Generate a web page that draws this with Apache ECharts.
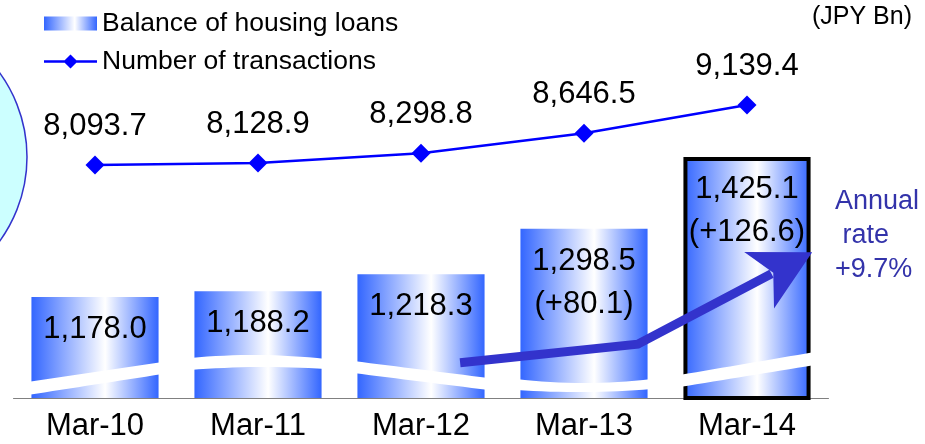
<!DOCTYPE html>
<html>
<head>
<meta charset="utf-8">
<script src="https://cdn.jsdelivr.net/npm/echarts@6/dist/echarts.min.js"></script>
<style>
html,body{margin:0;padding:0;background:#fff;}
#chart{width:925px;height:444px;}
</style>
</head>
<body>
<div id="chart"></div>
<script>
// ---- data ----
const categories = ['Mar-10', 'Mar-11', 'Mar-12', 'Mar-13', 'Mar-14'];
const loanBalance = [1178.0, 1188.2, 1218.3, 1298.5, 1425.1];
const loanIncrease = [null, null, null, 80.1, 126.6];
const transactions = [8093.7, 8128.9, 8298.8, 8646.5, 9139.4];
const seriesNames = ['Balance of housing loans', 'Number of transactions'];
const unitText = '(JPY Bn)';
const annualRateText = 'Annual\n rate\n+9.7%';
// arrow annotation anchor points: [category position, balance value]
const arrowPoints = [[2.24, 1062], [3.33, 1095], [4.4, 1257]];

// ---- style constants ----
const FONT = '"Liberation Sans", Arial, sans-serif';
// axis-break bands: px above baseline [topL, topM, topR, botL, botM, botR]
const BREAK_SHAPES = [
  [16, 26, 36, 3, 13.5, 24],
  [40, 43, 39, 28, 31, 29],
  [37, 28.5, 20, 25, 16.5, 8],
  [19, 15, 19, 8, 6, 9],
  [23, 34.5, 46, 11, 22, 33]
];
const LINE_LEGEND_ICON = 'path://M0,5.8L20.7,5.8L26.5,0L32.3,5.8L53,5.8L53,8.2L32.3,8.2L26.5,14L20.7,8.2L0,8.2Z';

function fmt(v) {
  return v.toFixed(1).replace(/\B(?=(\d{3})+(?!\d))/g, ',');
}

const barGradient = new echarts.graphic.LinearGradient(0, 0, 1, 0, [
  { offset: 0, color: '#3366FF' },
  { offset: 0.58, color: '#FFFFFF' },
  { offset: 1, color: '#3366FF' }
]);

const chart = echarts.init(document.getElementById('chart'), null, { renderer: 'canvas' });

function lagrange(L, M, R, t) {
  return L * (1 - t) * (1 - 2 * t) + 4 * M * t * (1 - t) + R * t * (2 * t - 1);
}

const option = {
  animation: false,
  textStyle: { fontFamily: FONT },
  graphic: [
    {
      type: 'circle', z: 0,
      shape: { cx: -116, cy: 157, r: 143 },
      style: { fill: '#CCFFFF', stroke: '#3333CC', lineWidth: 1.5 }
    },
    {
      type: 'text', right: 13, top: 5,
      style: { text: unitText, font: '25px ' + FONT, fill: '#000' }
    },
    {
      type: 'text', left: 835, top: 185,
      style: { text: annualRateText, font: '27px ' + FONT, fill: '#3333AA', lineHeight: 34 }
    }
  ],
  legend: {
    data: [
      { name: seriesNames[0], icon: 'rect' },
      { name: seriesNames[1], icon: LINE_LEGEND_ICON, itemStyle: { color: '#0000FF' } }
    ],
    orient: 'vertical',
    left: 39, top: 5,
    itemWidth: 53, itemHeight: 14, itemGap: 11,
    textStyle: { fontSize: 26.5, color: '#000', fontFamily: FONT },
    selectedMode: false
  },
  grid: { left: 13.5, right: 96.5, top: 60, bottom: 46 },
  xAxis: {
    type: 'category',
    data: categories,
    axisLine: { lineStyle: { color: '#808080', width: 1 } },
    axisTick: { inside: true, length: 9, lineStyle: { color: '#808080' } },
    axisLabel: { fontSize: 31, color: '#000', margin: 13, fontFamily: FONT }
  },
  yAxis: [
    { type: 'value', min: 1000, max: 1596, show: false, splitLine: { show: false } },
    { type: 'value', min: 4033, max: 9924, show: false, splitLine: { show: false } }
  ],
  series: [
    {
      name: seriesNames[0],
      type: 'bar',
      yAxisIndex: 0,
      barWidth: '78%',
      z: 2,
      itemStyle: { color: barGradient },
      data: loanBalance.map((v, i) => i === loanBalance.length - 1
        ? { value: v, itemStyle: { borderColor: '#000', borderWidth: 4 } }
        : v),
      label: {
        show: true,
        position: 'insideTop',
        distance: 11,
        fontSize: 31,
        lineHeight: 43,
        color: '#000',
        fontFamily: FONT,
        formatter: p => {
          const inc = loanIncrease[p.dataIndex];
          return fmt(p.value) + (inc != null ? '\n(+' + fmt(inc) + ')' : '');
        }
      }
    },
    {
      type: 'custom',
      yAxisIndex: 0,
      z: 3,
      silent: true,
      data: categories.map((c, i) => [i, 1000]),
      renderItem: (params, api) => {
        const i = api.value(0);
        const base = api.coord([i, 1000]);
        const w = api.size([1, 0])[0] * 0.78 + 8;
        const left = base[0] - w / 2;
        const y0 = base[1];
        const s = BREAK_SHAPES[i];
        const pts = [];
        const N = 16;
        for (let k = 0; k <= N; k++) {
          const t = k / N;
          pts.push([left + t * w, y0 - lagrange(s[0], s[1], s[2], t)]);
        }
        for (let k = N; k >= 0; k--) {
          const t = k / N;
          pts.push([left + t * w, y0 - lagrange(s[3], s[4], s[5], t)]);
        }
        return { type: 'polygon', shape: { points: pts }, style: { fill: '#FFFFFF' } };
      }
    },
    {
      type: 'custom',
      yAxisIndex: 0,
      z: 4,
      silent: true,
      data: [[0, 1000]],
      renderItem: (params, api) => {
        const band = api.size([1, 0])[0];
        const px = arrowPoints.map(p => {
          const b = api.coord([0, p[1]]);
          return [b[0] + p[0] * band, b[1]];
        });
        const tip = px[2];
        const bend = px[1];
        const dx = tip[0] - bend[0], dy = tip[1] - bend[1];
        const len = Math.sqrt(dx * dx + dy * dy);
        const d = [dx / len, dy / len];
        const n = [-d[1], d[0]];
        const L = 60, W = 32, notch = 44;
        const back = [tip[0] - L * d[0], tip[1] - L * d[1]];
        const wing1 = [back[0] + W * n[0], back[1] + W * n[1]];
        const wing2 = [back[0] - W * n[0], back[1] - W * n[1]];
        const nt = [tip[0] - notch * d[0], tip[1] - notch * d[1]];
        const shaftEnd = [tip[0] - (notch + 2) * d[0], tip[1] - (notch + 2) * d[1]];
        return {
          type: 'group',
          children: [
            { type: 'polyline', shape: { points: [px[0], px[1], shaftEnd] },
              style: { stroke: '#3333CC', lineWidth: 9, fill: null, lineJoin: 'miter' } },
            { type: 'polygon', shape: { points: [tip, wing1, nt, wing2] },
              style: { fill: '#3333CC' } }
          ]
        };
      }
    },
    {
      name: seriesNames[1],
      type: 'line',
      yAxisIndex: 1,
      z: 5,
      data: transactions,
      symbol: 'diamond',
      symbolSize: 19,
      lineStyle: { color: '#0000FF', width: 2.5 },
      itemStyle: { color: '#0000FF' },
      label: {
        show: true,
        position: 'top',
        distance: 14,
        fontSize: 31,
        color: '#000',
        fontFamily: FONT,
        formatter: p => fmt(p.value)
      }
    }
  ]
};

chart.setOption(option);
</script>
</body>
</html>
